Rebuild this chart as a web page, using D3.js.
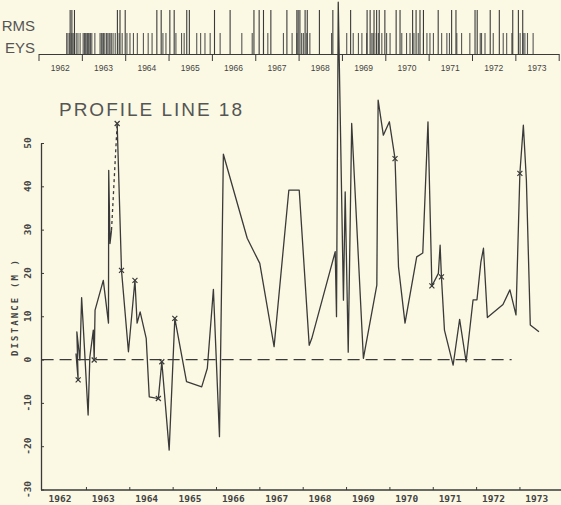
<!DOCTYPE html>
<html><head><meta charset="utf-8">
<script src="https://cdn.jsdelivr.net/npm/d3@7"></script>
<style>html,body{margin:0;padding:0;background:#fbf9e4;} svg{display:block}</style>
</head><body><svg id="c" width="561" height="505"></svg>
<script>
// ---------- DATA ----------
const yearLabels = [1962,1963,1964,1965,1966,1967,1968,1969,1970,1971,1972,1973];
const yTickValues = [50,40,30,20,10,0,-10,-20,-30];

const stormDates = [1962.73,1962.77,1962.83,1963.82,1963.88,1964.00,1964.73,1964.83,1965.03,1965.13,
  1965.42,1965.48,1966.06,1966.42,1966.97,1967.09,1967.19,1967.36,1967.73,1967.96,1967.99,1968.03,
  1968.15,1968.20,1968.48,1968.79,1969.20,1969.58,1969.65,1969.74,1969.80,1969.86,1969.99,1970.25,
  1970.34,1970.63,1970.71,1970.80,1970.88,1971.22,1971.53,1971.63,1972.07,1972.12,1972.42,1972.63,
  1972.94,1973.07,1973.17];

const surveyDates = [1962.65,1962.68,1962.72,1962.77,1962.80,1962.87,1962.91,1962.96,1963.03,1963.06,
  1963.08,1963.10,1963.13,1963.15,1963.17,1963.20,1963.23,1963.30,1963.42,1963.45,1963.47,1963.50,
  1963.53,1963.57,1963.60,1963.63,1963.65,1963.68,1963.72,1963.77,1963.86,1963.93,1964.04,1964.11,
  1964.19,1964.28,1964.42,1964.53,1964.62,1964.87,1964.94,1965.17,1965.30,1965.36,1965.65,1965.74,
  1965.84,1965.96,1966.19,1966.69,1966.93,1967.19,1967.29,1967.65,1967.85,1967.96,1968.07,1968.11,
  1968.19,1968.26,1968.76,1969.11,1969.26,1969.38,1969.46,1969.57,1969.69,1969.72,1969.79,1969.84,
  1969.92,1970.03,1970.11,1970.38,1970.49,1970.57,1970.66,1970.76,1970.88,1970.96,1971.03,1971.11,
  1971.30,1971.42,1971.48,1971.65,1971.76,1971.95,1972.19,1972.22,1972.30,1972.49,1972.72,1972.80,
  1972.92,1973.11,1973.18,1973.22,1973.28,1973.41];

const profileDates = [1962.77,1962.82,1962.79,1962.86,1962.90,1962.93,1963.05,1963.09,1963.17,1963.19,
  1963.21,1963.40,1963.52,1963.525,1963.555,1963.59,1963.72,1963.82,1963.98,1964.13,
  1964.18,1964.25,1964.39,1964.46,1964.67,1964.75,1964.92,1965.05,1965.32,1965.67,
  1965.80,1965.94,1966.08,1966.17,1966.72,1967.01,1967.34,1967.68,1967.92,1968.15,
  1968.21,1968.75,1968.78,1968.82,1968.94,1968.98,1969.05,1969.13,1969.40,1969.71,
  1969.74,1969.86,1970.00,1970.13,1970.21,1970.36,1970.63,1970.77,1970.89,1970.98,
  1971.13,1971.17,1971.20,1971.27,1971.47,1971.62,1971.77,1971.93,1972.02,1972.11,
  1972.17,1972.26,1972.62,1972.78,1972.92,1973.01,1973.09,1973.16,1973.25,1973.45];
const profileValues = [1.4,-4.7,6.4,-0.1,14.3,9.1,-12.8,0.6,6.8,-0.1,
  11.4,18.3,8.4,43.7,26.8,29.9,54.5,20.6,1.8,18.3,
  8.4,11.0,4.9,-8.6,-9.0,-0.5,-20.9,9.5,-5.1,-6.3,
  -2.0,16.2,-17.8,47.4,28.0,22.2,3.0,39.1,39.1,3.3,
  4.9,24.9,9.9,82.5,13.7,38.7,1.7,54.5,0.3,17.2,
  59.9,51.8,54.9,46.4,21.4,8.4,23.7,24.6,54.9,17.0,
  19.9,26.4,19.1,6.8,-1.3,9.3,-0.5,13.8,13.8,22.5,
  25.7,9.7,12.7,16.1,10.3,43.0,54.1,41.4,8.0,6.4];
const markerIdx = [1,9,16,17,19,24,25,27,53,59,62,75];
const dashedFrom = 15;       // segment from point 15 to 16 is dashed
const zeroLineEnd = 1972.82;

// ---------- DRAW ----------
const W = 561, H = 505;
const ink = '#3a3a3a';
const bg = '#fbf9e4';
const svg = d3.select('#c');
svg.append('rect').attr('width', W).attr('height', H).attr('fill', bg);

// ----- top strip -----
const xt = d3.scaleLinear().domain([1962, 1974]).range([38.5, 558.7]);
const stripBase = 54;
const stripG = svg.append('g');
stripG.selectAll('line.survey').data(surveyDates).join('line')
  .attr('class', 'survey')
  .attr('x1', d => xt(d)).attr('x2', d => xt(d))
  .attr('y1', 33).attr('y2', stripBase)
  .attr('stroke', '#555').attr('stroke-width', 1.1);
stripG.selectAll('line.storm').data(stormDates).join('line')
  .attr('class', 'storm')
  .attr('x1', d => xt(d)).attr('x2', d => xt(d))
  .attr('y1', 10).attr('y2', stripBase)
  .attr('stroke', ink).attr('stroke-width', 1.1);

const topAxis = svg.append('g').attr('transform', `translate(0,${stripBase})`)
  .call(d3.axisBottom(xt).tickValues(d3.range(1962, 1975)).tickSize(7).tickSizeOuter(0).tickFormat(''));
topAxis.select('.domain').attr('stroke', ink);
topAxis.selectAll('.tick line').attr('stroke', ink);

svg.append('g').selectAll('text').data(yearLabels).join('text')
  .attr('x', d => xt(d + 0.5)).attr('y', 71)
  .attr('text-anchor', 'middle')
  .attr('font-family', 'Liberation Sans, Arial, sans-serif')
  .attr('font-size', 8.5).attr('fill', '#444')
  .text(d => d);

svg.append('text').attr('x', 35).attr('y', 31).attr('text-anchor', 'end')
  .attr('font-family', 'Liberation Sans, Arial, sans-serif').attr('font-size', 15)
  .attr('fill', '#555').text('RMS');
svg.append('text').attr('x', 35).attr('y', 53).attr('text-anchor', 'end')
  .attr('font-family', 'Liberation Sans, Arial, sans-serif').attr('font-size', 15)
  .attr('fill', '#555').text('EYS');

// ----- title -----
svg.append('text').attr('x', 59).attr('y', 116)
  .attr('font-family', 'Liberation Sans, Arial, sans-serif').attr('font-size', 19)
  .attr('fill', '#555').attr('textLength', 183).attr('lengthAdjust', 'spacing')
  .text('PROFILE LINE 18');

// ----- main chart -----
const x = d3.scaleLinear().domain([1962, 1974]).range([42.6, 562.8]);
const y = d3.scaleLinear().domain([-30, 50]).range([489.5, 143]);

// x axis
const xAxisG = svg.append('g').attr('transform', 'translate(0,490)')
  .call(d3.axisBottom(x).tickValues(d3.range(1963, 1974)).tickSize(-3).tickSizeOuter(0).tickFormat(''));
xAxisG.select('.domain').attr('d', 'M41,0H561').attr('stroke', ink).attr('stroke-width', 1.3);
xAxisG.selectAll('.tick line').attr('stroke', ink);

svg.append('g').selectAll('text').data(yearLabels).join('text')
  .attr('x', d => x(d + 0.4)).attr('y', 502)
  .attr('text-anchor', 'middle')
  .attr('font-family', 'DejaVu Sans Mono, monospace').attr('font-weight', 'bold')
  .attr('font-size', 9.5).attr('fill', '#444')
  .text(d => d);

// y axis
const yAxisG = svg.append('g').attr('transform', 'translate(41,0)')
  .call(d3.axisLeft(y).tickValues(yTickValues).tickSize(-3).tickSizeOuter(0).tickFormat(''));
yAxisG.select('.domain').attr('stroke', ink).attr('stroke-width', 1.3);
yAxisG.selectAll('.tick line').attr('stroke', ink);

svg.append('g').selectAll('text').data(yTickValues).join('text')
  .attr('transform', d => `translate(31,${y(d)}) rotate(-90)`)
  .attr('text-anchor', 'middle')
  .attr('font-family', 'DejaVu Sans Mono, monospace').attr('font-weight', 'bold')
  .attr('font-size', 9.5).attr('fill', '#444')
  .text(d => d);

svg.append('text').attr('transform', 'translate(18,308) rotate(-90)')
  .attr('text-anchor', 'middle')
  .attr('font-family', 'DejaVu Sans Mono, monospace').attr('font-weight', 'bold')
  .attr('font-size', 9).attr('fill', '#444')
  .attr('textLength', 96).attr('lengthAdjust', 'spacing')
  .text('DISTANCE (M )');

// zero line
svg.append('line')
  .attr('x1', x(1962) - 1).attr('x2', x(zeroLineEnd))
  .attr('y1', y(0)).attr('y2', y(0))
  .attr('stroke', ink).attr('stroke-width', 1.2).attr('stroke-dasharray', '12,6');

// profile line
const pts = profileDates.map((t, i) => ({t, v: profileValues[i]}));
const line = d3.line().x(d => x(d.t)).y(d => y(d.v));
svg.append('path').datum(pts.slice(0, dashedFrom + 1)).attr('d', line)
  .attr('fill', 'none').attr('stroke', ink).attr('stroke-width', 1.3).attr('stroke-linejoin', 'round');
svg.append('path').datum(pts.slice(dashedFrom, dashedFrom + 2)).attr('d', line)
  .attr('fill', 'none').attr('stroke', ink).attr('stroke-width', 1.3).attr('stroke-dasharray', '3,3');
svg.append('path').datum(pts.slice(dashedFrom + 1)).attr('d', line)
  .attr('fill', 'none').attr('stroke', ink).attr('stroke-width', 1.3).attr('stroke-linejoin', 'round');

// x markers
svg.append('g').selectAll('path').data(markerIdx.map(i => pts[i])).join('path')
  .attr('transform', d => `translate(${x(d.t)},${y(d.v)})`)
  .attr('d', 'M-2.5,-2.5L2.5,2.5M-2.5,2.5L2.5,-2.5')
  .attr('stroke', ink).attr('stroke-width', 1.2).attr('fill', 'none');
</script></body></html>
